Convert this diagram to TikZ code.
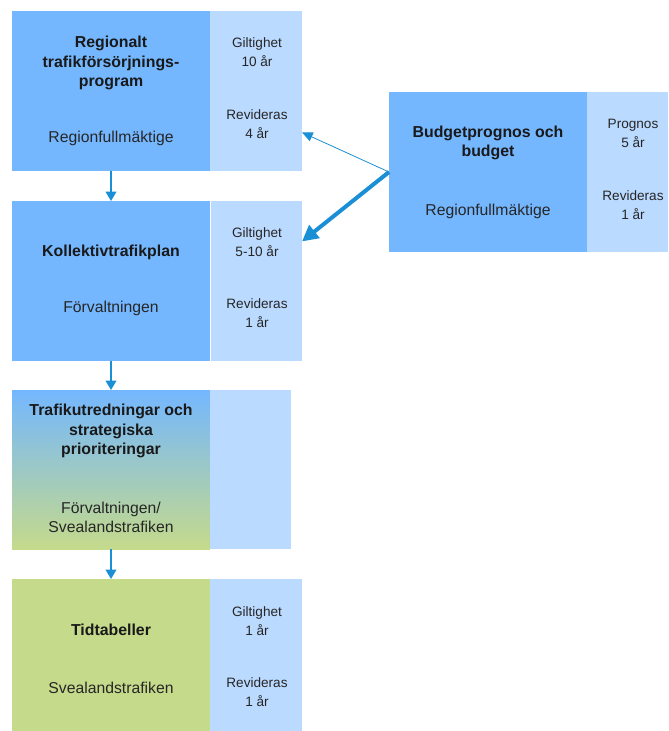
\documentclass[tikz,border=0pt]{standalone}
\usepackage{fontspec}
\setmainfont{Liberation Sans}
\usetikzlibrary{arrows.meta}
\definecolor{mainblue}{RGB}{116,183,255}
\definecolor{sideblue}{RGB}{187,218,255}
\definecolor{planegreen}{RGB}{197,218,139}
\definecolor{arrowblue}{RGB}{26,143,214}
\tikzset{
  mainbox/.style={fill=mainblue, minimum width=148.5pt, minimum height=120pt,
    inner sep=0pt, outer sep=0pt, anchor=north west},
  sidebox/.style={fill=sideblue, minimum width=69pt, minimum height=120pt,
    inner sep=0pt, outer sep=0pt, anchor=north west},
  title/.style={font=\bfseries\fontsize{11.9}{14.6}\selectfont, align=center, text=black!90},
  sub/.style={font=\fontsize{11.8}{14.3}\selectfont, align=center, text=black!85},
  period/.style={font=\fontsize{10.2}{14.3}\selectfont, align=center, text=black!85},
  flow/.style={draw=arrowblue, line width=1.1pt, -{Triangle[width=8pt,length=7pt]}},
}

\begin{document}
\begin{tikzpicture}[x=0.75pt,y=-0.75pt]
  \useasboundingbox (0,0) rectangle (668,731);

  % Regionalt trafikförsörjningsprogram
  \node[mainbox] (trp) at (12,11) {};
  \node[sidebox] (trpside) at (210,11) {};
  \node[title] (trp-t) at (111,63) {Regionalt\\trafikförsörjnings-\\program};
  \node[sub] (trp-s) at (111,138) {Regionfullmäktige};
  \node[period] (trp-g) at (257,52) {Giltighet\\10 år};
  \node[period] (trp-r) at (257,124) {Revideras\\4 år};

  % Kollektivtrafikplan
  \node[mainbox] (ktp) at (12,201) {};
  \node[sidebox, minimum width=68.25pt] (ktpside) at (211,201) {};
  \node[title] (ktp-t) at (111,252) {Kollektivtrafikplan};
  \node[sub] (ktp-s) at (111,308) {Förvaltningen};
  \node[period] (ktp-g) at (257,242) {Giltighet\\5-10 år};
  \node[period] (ktp-r) at (257,313) {Revideras\\1 år};

  % Trafikutredningar
  \node[mainbox, minimum height=119.25pt, top color=mainblue, bottom color=planegreen] (tu) at (12,390) {};
  \node[sidebox, minimum width=60.75pt, minimum height=119.25pt] (tuside) at (210,390) {};
  \node[title] (tu-t) at (111,431) {Trafikutredningar och\\strategiska\\prioriteringar};
  \node[sub] (tu-s) at (111,517) {Förvaltningen/\\Svealandstrafiken};

  % Tidtabeller
  \node[mainbox, fill=planegreen, minimum height=114pt] (tt) at (12,579) {};
  \node[sidebox, minimum height=114pt] (ttside) at (210,579) {};
  \node[title] (tt-t) at (111,630) {Tidtabeller};
  \node[sub] (tt-s) at (111,688) {Svealandstrafiken};
  \node[period] (tt-g) at (257,621) {Giltighet\\1 år};
  \node[period] (tt-r) at (257,692) {Revideras\\1 år};

  % Budgetprognos och budget
  \node[mainbox] (bud) at (389,92) {};
  \node[sidebox, minimum width=60.75pt] (budside) at (587,92) {};
  \node[title] (bud-t) at (488,143) {Budgetprognos och\\budget};
  \node[sub] (bud-s) at (488,211) {Regionfullmäktige};
  \node[period] (bud-p) at (633,133) {Prognos\\5 år};
  \node[period] (bud-r) at (633,205) {Revideras\\1 år};

  \draw[flow] (trp.south) -- (ktp.north);
  \draw[flow] (ktp.south) -- (tu.north);
  \draw[flow] (tu.south) -- (tt.north);
  \draw[flow, line width=0.6pt, -{Triangle[width=7pt,length=8pt]}] (bud.west) -- (trpside.-42);
  \draw[flow, line width=3pt, -{Triangle[width=12pt,length=12pt]}] (bud.west) -- (ktpside.41);
\end{tikzpicture}
\end{document}
